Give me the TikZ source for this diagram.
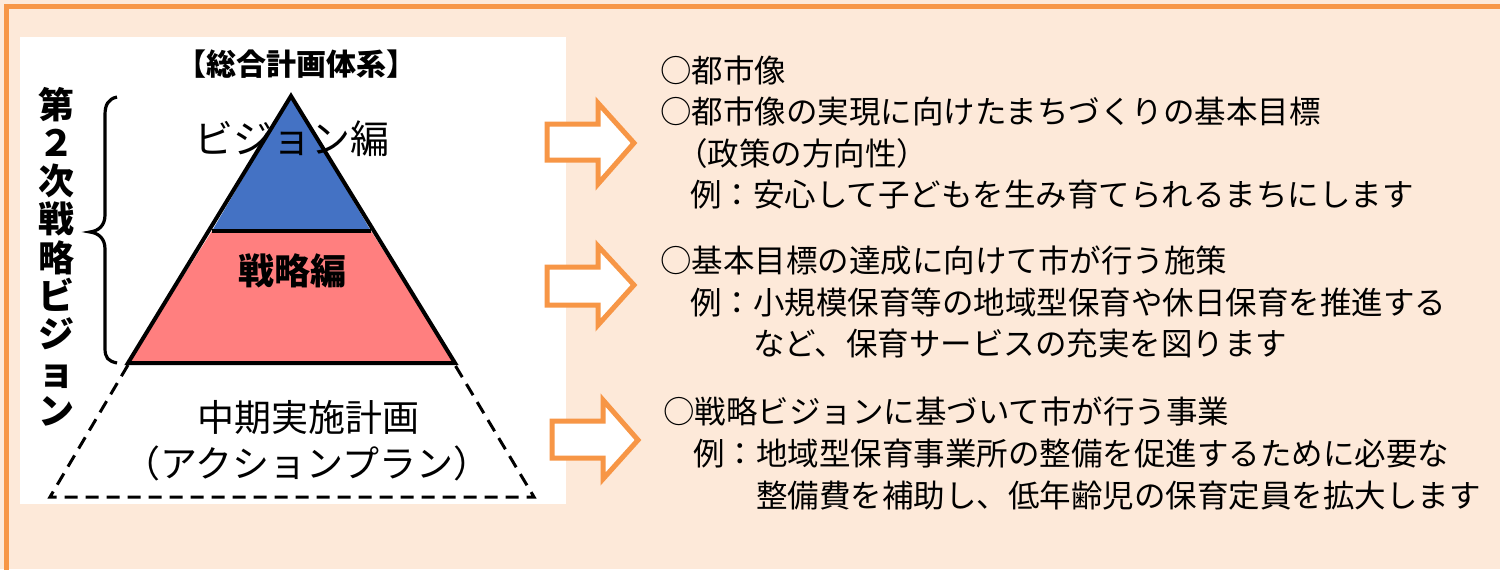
\documentclass[tikz,border=0pt]{standalone}
\usepackage{fontspec}
\setmainfont{Noto Sans CJK JP}
\definecolor{peach}{HTML}{FDE9D9}
\definecolor{frameor}{HTML}{F79646}
\definecolor{pblue}{HTML}{4472C4}
\definecolor{pred}{HTML}{FF7F7F}
\begin{document}
\begin{tikzpicture}[x=0.5pt,y=-0.5pt,
  rtxt/.style={anchor=base west,inner sep=0pt,font=\fontsize{15.75pt}{18pt}\selectfont},
  ptxt/.style={anchor=base,inner sep=0pt},
  arrowbox/.style={draw=frameor,fill=white,line width=2.5pt,line join=miter},
  pedge/.style={draw=black,line width=2pt,line join=miter},
  dashedge/.style={draw=black,line width=1.5pt,dash pattern=on 6.5pt off 4pt},
  vchar/.style={anchor=base,inner sep=0pt,font=\fontsize{18pt}{18pt}\selectfont\bfseries}]
\useasboundingbox (0,0) rectangle (1500,569);
\clip (0,0) rectangle (1500,569);
% background and frame
\fill[peach] (0,0) rectangle (1500,569);
\draw[frameor,line width=2.5pt] (6.5,600) -- (6.5,6.5) -- (1520,6.5);
\fill[white] (20,37) rectangle (566,504);
% pyramid
\fill[pblue] (291,96) -- (212,231) -- (371,231) -- cycle;
\fill[pred] (212,231) -- (371,231) -- (455,363) -- (128,363) -- cycle;
\draw[pedge] (291,96) -- (455,363) -- (128,363) -- cycle;
\draw[pedge] (212,231) -- (371,231);
\draw[dashedge] (128,365) -- (50,497) -- (534,497) -- (455,365);
% pyramid texts
\node[ptxt,font=\fontsize{15pt}{15pt}\selectfont\bfseries] (title) at (296,75) {【総合計画体系】};
\node[ptxt,font=\fontsize{19.5pt}{20pt}\selectfont] (vision) at (292,153) {ビジョン編};
\node[ptxt,font=\fontsize{18pt}{18pt}\selectfont\bfseries] (senryaku) at (292,284) {戦略編};
\node[ptxt,font=\fontsize{18.5pt}{19pt}\selectfont] (chuki) at (308,431) {中期実施計画};
\node[ptxt,font=\fontsize{18.5pt}{19pt}\selectfont] (action) at (307,477) {（アクションプラン）};
% vertical label
\foreach \c [count=\i from 0] in {第,２,次,戦,略,ビ,ジ,ョ,ン}
  \node[vchar] (v\i) at (57,{118+38.25*\i}) {\c};
% brace
\draw[line width=1.6pt] (117,97) .. controls (108,99) and (105,105) .. (105,115) -- (105,215)
  .. controls (105,226) and (98,231) .. (90,232)
  .. controls (98,233) and (105,238) .. (105,249) -- (105,348)
  .. controls (105,358) and (108,361) .. (117,363);
% arrows
\draw[arrowbox] (547,124) -- (598,124) -- (598,103) -- (634,143) -- (598,184) -- (598,160) -- (547,160) -- cycle;
\draw[arrowbox] (547,267) -- (598,267) -- (598,246) -- (634,285) -- (598,325) -- (598,305) -- (547,305) -- cycle;
\draw[arrowbox] (552,421) -- (603,421) -- (603,400) -- (638,440) -- (603,479) -- (603,458) -- (552,458) -- cycle;
% right texts
\node[rtxt] (a1) at (660,82) {○都市像};
\node[rtxt] (a2) at (660,123) {○都市像の実現に向けたまちづくりの基本目標};
\node[rtxt] (a3) at (676,165) {（政策の方向性）};
\node[rtxt] (a4) at (690,206) {例：安心して子どもを生み育てられるまちにします};
\node[rtxt] (b1) at (660,272) {○基本目標の達成に向けて市が行う施策};
\node[rtxt] (b2) at (690,314) {例：小規模保育等の地域型保育や休日保育を推進する};
\node[rtxt] (b3) at (753,355) {など、保育サービスの充実を図ります};
\node[rtxt] (c1) at (663,423) {○戦略ビジョンに基づいて市が行う事業};
\node[rtxt] (c2) at (693,465) {例：地域型保育事業所の整備を促進するために必要な};
\node[rtxt] (c3) at (756,507) {整備費を補助し、低年齢児の保育定員を拡大します};
\end{tikzpicture}
\end{document}
